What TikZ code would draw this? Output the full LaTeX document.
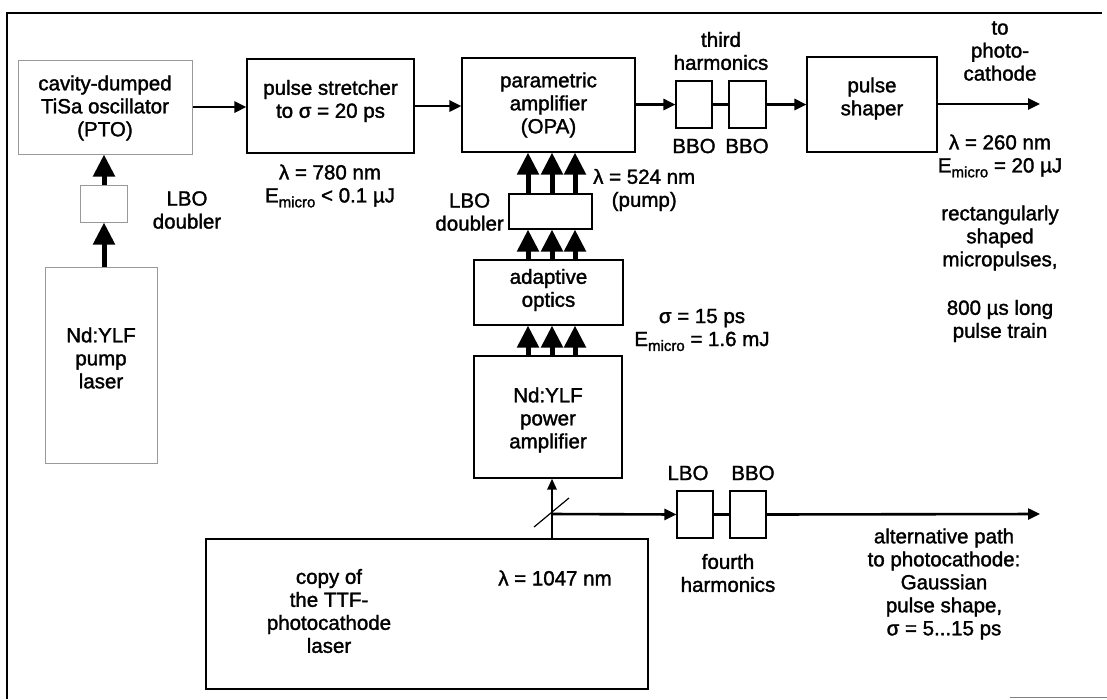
\documentclass[tikz,border=0pt]{standalone}
\usepackage{fontspec}
\setmainfont{Liberation Sans}[FakeBold=1.6]
\usetikzlibrary{arrows.meta,calc}
\newcommand{\Emicro}{E\raisebox{-0.45ex}{\fontsize{15}{15}\selectfont micro}}
\begin{document}
\begin{tikzpicture}[x=1pt,y=-1pt,
  every node/.style={font=\fontsize{20.5}{23}\selectfont, align=center, inner sep=0pt},
  box/.style={draw=black, line width=1.1pt},
  faintbox/.style={draw=black!40, line width=1pt},
  beam/.style={line width=2.6pt, -{Triangle[length=12pt,width=11pt]}},
  beamline/.style={line width=3.5pt},
  pumparr/.style={line width=5pt, -{Triangle[length=22pt,width=21pt]}},
  thinarr/.style={line width=2.6pt, -{Triangle[length=11pt,width=9pt]}},
  frame/.style={line width=2pt}]
\useasboundingbox (0,0) rectangle (1107,699);
% frame
\coordinate (f1) at (7,699);
\coordinate (f2) at (7,13);
\coordinate (f3) at (1102,13);
\draw[frame] (f1) -- (f2) -- (f3);
\coordinate (f4) at (1010,697);
\coordinate (f5) at (1107,697);
\draw[black!50, line width=1pt] (f4) -- (f5);

% boxes
\node[faintbox, minimum width=174pt, minimum height=94pt] (pto) at (105,107) {};
\node (ptotxt) at (105,108) {cavity-dumped\\TiSa oscillator\\(PTO)};
\node[faintbox, minimum width=47pt, minimum height=37pt] (ldbl) at (103.5,203.5) {};
\node[faintbox, minimum width=112pt, minimum height=196pt] (pump) at (101,365) {};
\node (pumptxt) at (101,358) {Nd:YLF\\pump\\laser};
\node[box, minimum width=167pt, minimum height=94pt] (str) at (330.5,106) {};
\node (strtxt) at (330.5,101) {pulse stretcher\\to σ = 20 ps};
\node[box, minimum width=173pt, minimum height=94pt] (opa) at (548.5,105) {parametric\\amplifier\\(OPA)};
\node[box, minimum width=36pt, minimum height=47pt] (bbo1) at (694,104.5) {};
\node[box, minimum width=37pt, minimum height=47pt] (bbo2) at (747.5,104.5) {};
\node[box, minimum width=130pt, minimum height=95pt] (shp) at (872,104.5) {};
\node (shptxt) at (872,98.5) {pulse\\shaper};
\node[box, minimum width=83pt, minimum height=35pt] (rdbl) at (550.5,211.5) {};
\node[box, minimum width=149pt, minimum height=65pt] (adapt) at (548.5,292.5) {};
\node (adapttxt) at (548.5,290) {adaptive\\optics};
\node[box, minimum width=148pt, minimum height=122pt] (amp) at (548,417) {};
\node (amptxt) at (548,420) {Nd:YLF\\power\\amplifier};
\node[box, minimum width=36pt, minimum height=47pt] (lbo4) at (695,514.5) {};
\node[box, minimum width=36pt, minimum height=47pt] (bbo4) at (748,514.5) {};
\node[box, minimum width=442pt, minimum height=150pt] (copy) at (427,614) {};
\node (copytxt) at (329,611) {copy of\\the TTF-\\photocathode\\laser};
\node (lam1047) at (555,578) {λ = 1047 nm};

% labels
\node (lbl1) at (187,210) {LBO\\doubler};
\node (lbl2) at (330,186) {λ = 780 nm\\\Emicro{} < 0.1 µJ};
\node (lbl3) at (721,51) {third\\harmonics};
\node (lbl4) at (694,146) {BBO};
\node (lbl5) at (747,146) {BBO};
\node (lbl6) at (1000,51) {to\\photo-\\cathode};
\node (lbl7) at (1000,156) {λ = 260 nm\\\Emicro{} = 20 µJ};
\node (lbl8) at (1000,238) {rectangularly\\shaped\\micropulses,};
\node (lbl9) at (1000,321) {800 µs long\\pulse train};
\node[anchor=east] (lbl10) at (504,212) {LBO\\doubler};
\node[anchor=west] (lbl11) at (593,190) {λ = 524 nm\\(pump)};
\node (lbl12) at (702,330) {σ = 15 ps\\\Emicro{} = 1.6 mJ};
\node (lbl13) at (688,473) {LBO};
\node (lbl14) at (753,473) {BBO};
\node (lbl15) at (728,573) {fourth\\harmonics};
\node (lbl16) at (944,584) {alternative path\\to photocathode:\\Gaussian\\pulse shape,\\σ = 5...15 ps};

% coordinates for parallel beams
\coordinate (cl) at (104,0);
\coordinate (ca) at (528,0);
\coordinate (cb) at (552,0);
\coordinate (cc) at (575,0);
\coordinate (out1) at (1040,104);
\coordinate (bs) at (552,514);
\coordinate (out2) at (1040,514);

% left pump chain
\draw[pumparr] (cl |- pump.north) -- (cl |- ldbl.south);
\draw[pumparr] (cl |- ldbl.north) -- (cl |- pto.south);

% main beam
\draw[beam] (pto.east) -- (pto.east -| str.west);
\draw[beam] (str.east) -- (str.east -| opa.west);
\draw[beam] (opa.east |- bbo1.west) -- (bbo1.west);
\draw[beamline] (bbo1.east) -- (bbo2.west);
\draw[beam] (bbo2.east) -- (bbo2.east -| shp.west);
\draw[beam] (shp.east |- out1) -- (out1);

% pump stack
\foreach \c in {ca,cb,cc} {
  \draw[pumparr] (\c |- rdbl.north) -- (\c |- opa.south);
  \draw[pumparr] (\c |- adapt.north) -- (\c |- rdbl.south);
  \draw[pumparr] (\c |- amp.north) -- (\c |- adapt.south);
}

% lower path
\draw[thinarr] (cb |- copy.north) -- (cb |- amp.south);
\draw[line width=1.2pt] ($(bs)+(-18,13)$) -- ($(bs)+(17,-16)$);
\draw[beam] (bs) -- (lbo4.west);
\draw[beamline] (lbo4.east) -- (bbo4.west);
\draw[beam] (bbo4.east) -- (out2);
\end{tikzpicture}
\end{document}
